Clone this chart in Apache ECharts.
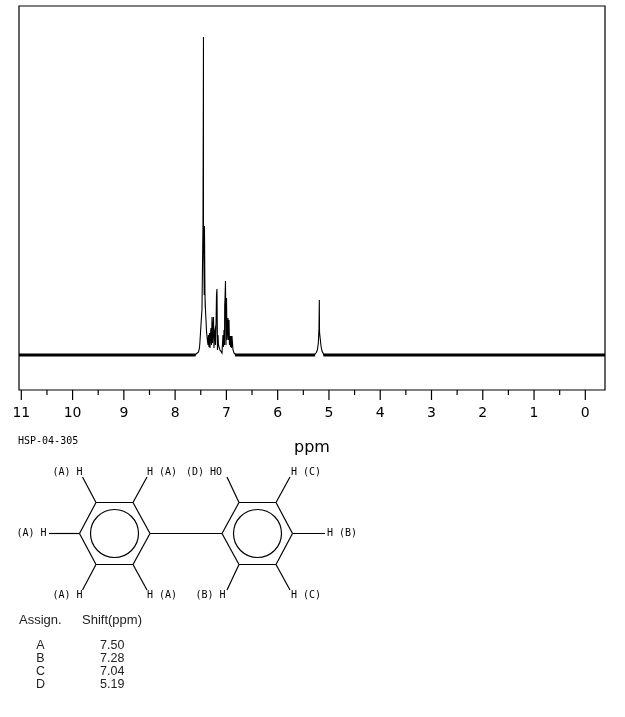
<!DOCTYPE html>
<html><head><meta charset="utf-8">
<style>html,body{margin:0;padding:0;background:#fff}#c{width:625px;height:717px}</style>
<script src="https://cdn.jsdelivr.net/npm/echarts@6/dist/echarts.min.js"></script>
</head><body><div id="c"></div>
<script>
// ppm, intensity
const clusterPeaks = [[7.613,0],[7.574,1],[7.544,3],[7.525,7],[7.515,14],[7.496,30],[7.476,46],[7.465,47],[7.457,129],[7.447,318],[7.447,129],[7.437,129],[7.432,60],[7.428,129],[7.418,61],[7.412,47],[7.418,61],[7.408,45],[7.398,35],[7.388,24],[7.379,19],[7.369,14],[7.359,10],[7.35,20],[7.34,8],[7.33,22],[7.32,7],[7.311,20],[7.301,27],[7.291,10],[7.281,38],[7.272,12],[7.262,12],[7.252,38],[7.242,7],[7.233,22],[7.223,25],[7.213,10],[7.203,27],[7.193,60],[7.184,66],[7.174,5],[7.164,20],[7.155,10],[7.145,8],[7.125,5],[7.086,2],[7.067,20],[7.057,8],[7.047,25],[7.037,10],[7.033,50],[7.028,55],[7.018,74],[7.008,10],[6.998,57],[6.988,15],[6.969,37],[6.959,15],[6.949,35],[6.94,10],[6.93,19],[6.92,8],[6.91,19],[6.9,7],[6.891,19],[6.871,5],[6.852,2],[6.813,0]];
const hydroxylPeak = [[5.285,0],[5.246,2.5],[5.227,5],[5.207,12],[5.194,27],[5.188,55],[5.184,23],[5.174,23],[5.155,9],[5.135,4],[5.096,0]];
const baselineLeft = [[11.045,0],[7.6,0]];
const baselineMid = [[6.83,0],[5.27,0]];
const baselineRight = [[5.11,0],[-0.384,0]];
const majorTicks = [0,1,2,3,4,5,6,7,8,9,10,11];
const halfTicks = [0.5,1.5,2.5,3.5,4.5,5.5,6.5,7.5,8.5,9.5,10.5];
const assignLabels = ['A','B','C','D'];
const shiftValues = ['7.50','7.28','7.04','5.19'];

const ink = '#000';
const bonds = [
 [96,502.5,133,502.5],[133,502.5,150,533.5],[150,533.5,133,564.5],[133,564.5,96,564.5],[96,564.5,79.5,533.5],[79.5,533.5,96,502.5],
 [239,502.5,276,502.5],[276,502.5,292.5,533.5],[292.5,533.5,276,564.5],[276,564.5,239,564.5],[239,564.5,222,533.5],[222,533.5,239,502.5],
 [150,533.5,222,533.5],
 [96,502.5,82.5,477],[133,502.5,147,477],[79.5,533.5,49,533.5],[96,564.5,82.5,590],[133,564.5,147,590],
 [239,502.5,227,477],[276,502.5,290,477],[292.5,533.5,325,533.5],[239,564.5,227,590],[276,564.5,290,590]
];
const rings = [[114.5,533.5],[257.5,533.5]];
const structLabels = [
 ['(A) H',52.5,472],['H (A)',147,472],['(D) HO',186,472],['H (C)',291,472],
 ['(A) H',16.5,533.5],['H (B)',327,533.5],
 ['(A) H',52.5,595],['H (A)',147,595],['(B) H',195.5,595],['H (C)',291,595]
];
const mono = '"DejaVu Sans Mono"';
const graphic = [];
bonds.forEach(b=>graphic.push({type:'line',shape:{x1:b[0],y1:b[1],x2:b[2],y2:b[3]},style:{stroke:ink,lineWidth:1.2}}));
rings.forEach(r=>graphic.push({type:'circle',shape:{cx:r[0],cy:r[1],r:24},style:{fill:null,stroke:ink,lineWidth:1.2}}));
structLabels.forEach(l=>graphic.push({type:'text',x:l[1],y:l[2],style:{text:l[0],font:'10px '+mono,fill:ink,textVerticalAlign:'middle'}}));
graphic.push({type:'text',x:18,y:441,style:{text:'HSP-04-305',font:'10px '+mono,fill:ink,textVerticalAlign:'middle'}});
const headFont = '13px "Liberation Sans"', cellFont = '12.5px "Liberation Sans"', tableInk = '#222';
graphic.push({type:'text',x:19,y:620.5,style:{text:'Assign.',font:headFont,fill:tableInk,textVerticalAlign:'middle'}});
graphic.push({type:'text',x:82,y:620.5,style:{text:'Shift(ppm)',font:headFont,fill:tableInk,textVerticalAlign:'middle'}});
assignLabels.forEach((a,i)=>{
 graphic.push({type:'text',x:40.5,y:646+13*i,style:{text:a,font:cellFont,fill:tableInk,textAlign:'center',textVerticalAlign:'middle'}});
 graphic.push({type:'text',x:100,y:646+13*i,style:{text:shiftValues[i],font:cellFont,fill:tableInk,textVerticalAlign:'middle'}});
});
const thin = d=>({type:'line',data:d,symbol:'none',animation:false,silent:true,lineStyle:{color:ink,width:1.1,join:'miter'}});
const thick = d=>({type:'line',data:d,symbol:'none',animation:false,silent:true,lineStyle:{color:ink,width:3}});
const tickSeries = (vals,len)=>({
  type:'custom',silent:true,clip:false,animation:false,data:vals.map(v=>[v]),encode:{x:0},
  renderItem:(p,api)=>{
    const c=api.coord([api.value(0),-35]);
    return {type:'line',shape:{x1:c[0],y1:c[1],x2:c[0],y2:c[1]+len},style:{stroke:ink,lineWidth:1.2}};
  }
});
const chart = echarts.init(document.getElementById('c'),null,{renderer:'canvas'});
chart.setOption({
 animation:false,backgroundColor:'#fff',
 grid:{left:19,right:20,top:6,bottom:327,show:true,borderColor:ink,borderWidth:1.2,backgroundColor:'transparent'},
 xAxis:{
   type:'value',inverse:true,min:-0.384,max:11.045,position:'bottom',splitLine:{show:false},
   name:'ppm',nameLocation:'middle',nameGap:50,nameTextStyle:{fontFamily:'DejaVu Sans',fontSize:16,color:ink},
   axisLine:{show:false,onZero:false},
   axisTick:{show:false},
   axisLabel:{show:true,margin:16,customValues:majorTicks,fontFamily:'DejaVu Sans',fontSize:14,color:ink,formatter:v=>String(v)}
  },
 yAxis:{type:'value',min:-35,max:349,show:false,splitLine:{show:false}},
 series:[thick(baselineLeft),thick(baselineMid),thick(baselineRight),thin(clusterPeaks),thin(hydroxylPeak),tickSeries(majorTicks,10),tickSeries(halfTicks,5)],
 graphic:graphic
});
</script></body></html>
